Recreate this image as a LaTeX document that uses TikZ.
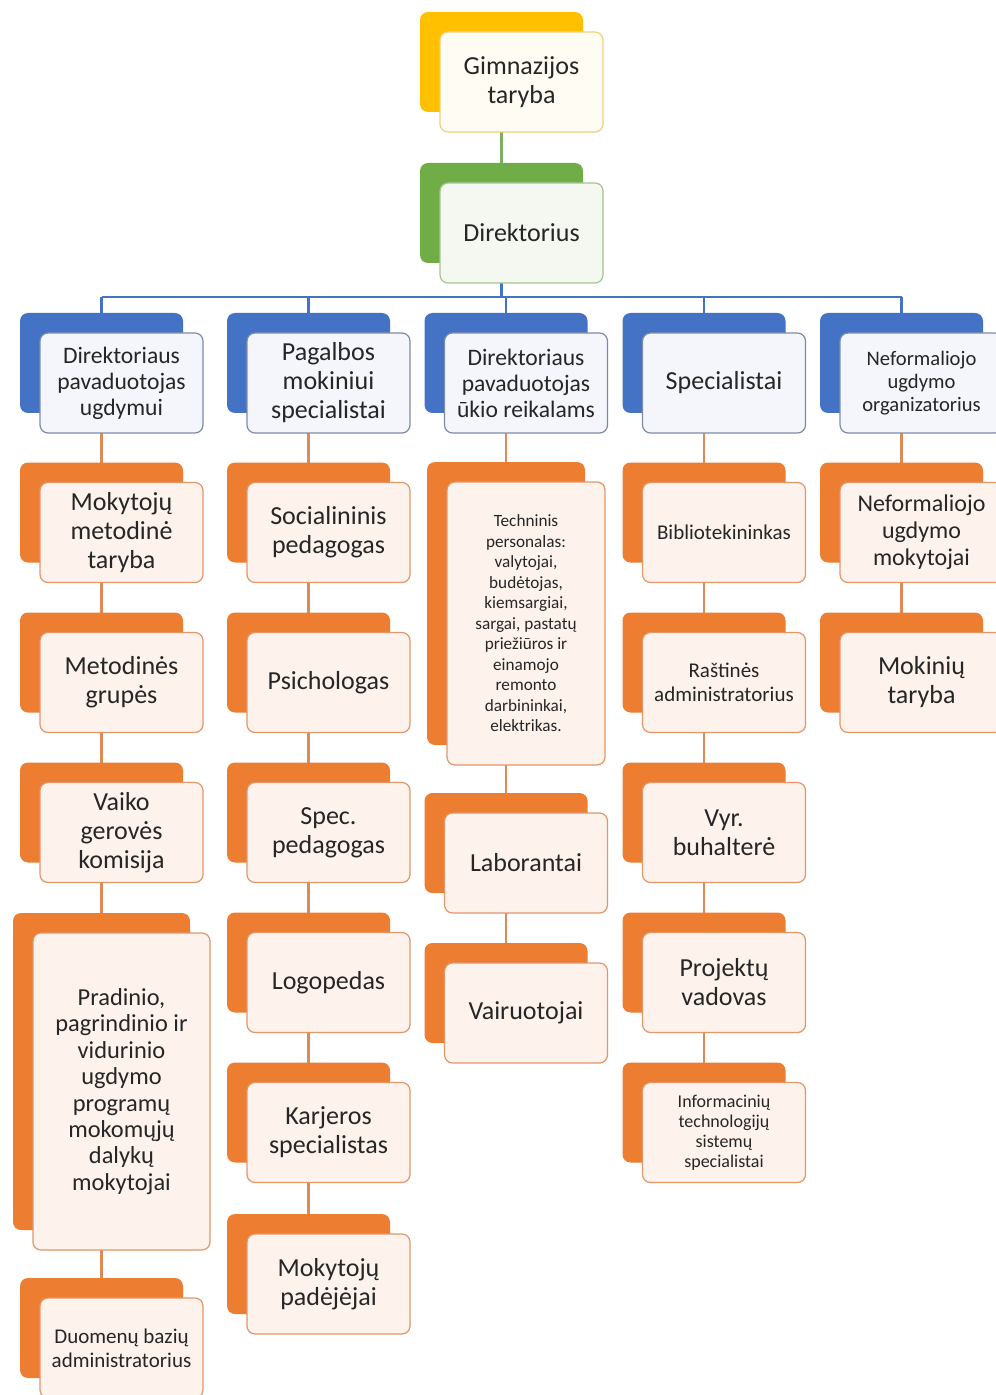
\documentclass[tikz,border=0pt]{standalone}
\usepackage{fontspec}
\setmainfont{Carlito}
\usetikzlibrary{shadows}
\usetikzlibrary{backgrounds}

\definecolor{gimback}{HTML}{FFC000}
\definecolor{gimfront}{HTML}{FFFDF3}
\definecolor{gimedge}{HTML}{F2D07A}
\definecolor{dirback}{HTML}{70AD47}
\definecolor{dirfront}{HTML}{F4F8F1}
\definecolor{diredge}{HTML}{A5C493}
\definecolor{pavback}{HTML}{4472C4}
\definecolor{pavfront}{HTML}{F4F6FB}
\definecolor{pavedge}{HTML}{7D8BAA}
\definecolor{darbback}{HTML}{ED7D31}
\definecolor{darbfront}{HTML}{FDF2EC}
\definecolor{darbedge}{HTML}{E0976A}
\definecolor{darbline}{HTML}{DE8A55}
\definecolor{dirline}{HTML}{7FAE5E}
\definecolor{tekstas}{HTML}{262626}

\tikzset{
  orgbox/.style={rectangle, rounded corners=4pt, minimum width=81.5pt, minimum height=50pt,
    inner sep=1pt, align=center, text=tekstas, line width=0.6pt},
  backcopy/.style={copy shadow={shadow xshift=-10pt, shadow yshift=10pt, fill=#1, draw=none}},
  gimbox/.style={orgbox, fill=gimfront, draw=gimedge, backcopy=gimback},
  dirbox/.style={orgbox, fill=dirfront, draw=diredge, backcopy=dirback},
  pavbox/.style={orgbox, fill=pavfront, draw=pavedge, backcopy=pavback},
  darbbox/.style={orgbox, fill=darbfront, draw=darbedge, backcopy=darbback},
  didelis/.style={font=\fontsize{13}{14.5}\selectfont},
  vidutinis/.style={font=\fontsize{11.8}{13}\selectfont},
  mazas/.style={font=\fontsize{10.5}{12}\selectfont},
  smulkus/.style={font=\fontsize{8.6}{10.25}\selectfont},
  darbjungtis/.style={draw=darbline, line width=1.4pt},
  pavjungtis/.style={draw=pavback, line width=1.4pt},
  dirjungtis/.style={draw=dirline, line width=1.4pt}
}

\begin{document}
\begin{tikzpicture}[x=0.5pt, y=-0.5pt]
        \useasboundingbox (0,0) rectangle (995,1395);

        \node[gimbox, didelis] (gim) at (521.5,82) {Gimnazijos\\taryba};
        \node[dirbox, didelis] (dir) at (521.5,233) {Direktorius};

        \node[pavbox, vidutinis] (dpu) at (121.5,383) {Direktoriaus\\pavaduotojas\\ugdymui};
        \node[pavbox, didelis] (pms) at (328.5,383) {Pagalbos\\mokiniui\\specialistai};
        \node[pavbox, vidutinis] (dpr) at (526,383) {Direktoriaus\\pavaduotojas\\ūkio reikalams};
        \node[pavbox, didelis] (spc) at (724,383) {Specialistai};
        \node[pavbox, font=\fontsize{10.3}{11.5}\selectfont] (nuo) at (921.5,383) {Neformaliojo\\ugdymo\\organizatorius};

        \node[darbbox, didelis] (mmt) at (121.5,532.5) {Mokytojų\\metodinė\\taryba};
        \node[darbbox, didelis] (mg) at (121.5,682.5) {Metodinės\\grupės};
        \node[darbbox, didelis] (vgk) at (121.5,832.5) {Vaiko\\gerovės\\komisija};
        \node[darbbox, font=\fontsize{12.2}{13.2}\selectfont, minimum width=88.5pt, minimum height=158.5pt] (pvu) at (121.5,1091.5)
          {Pradinio,\\pagrindinio ir\\vidurinio\\ugdymo\\programų\\mokomųjų\\dalykų\\mokytojai};
        \node[darbbox, mazas] (dba) at (121.5,1348) {Duomenų bazių\\administratorius};

        \node[darbbox, didelis] (sp) at (328.5,532.5) {Socialininis\\pedagogas};
        \node[darbbox, didelis] (psi) at (328.5,682.5) {Psichologas};
        \node[darbbox, didelis] (spp) at (328.5,832.5) {Spec.\\pedagogas};
        \node[darbbox, didelis] (log) at (328.5,982.5) {Logopedas};
        \node[darbbox, didelis] (ks) at (328.5,1132.5) {Karjeros\\specialistas};
        \node[darbbox, didelis] (mp) at (328.5,1284) {Mokytojų\\padėjėjai};

        \node[darbbox, smulkus, minimum width=79pt, minimum height=141.5pt] (tp) at (526,623.5)
          {Techninis\\personalas:\\valytojai,\\budėtojas,\\kiemsargiai,\\sargai, pastatų\\priežiūros ir\\einamojo\\remonto\\darbininkai,\\elektrikas.};
        \node[darbbox, didelis] (lab) at (526,863) {Laborantai};
        \node[darbbox, didelis] (vai) at (526,1013) {Vairuotojai};

        \node[darbbox, mazas] (bib) at (724,532.5) {Bibliotekininkas};
        \node[darbbox, mazas] (ra) at (724,682.5) {Raštinės\\administratorius};
        \node[darbbox, didelis] (vb) at (724,832.5) {Vyr.\\buhalterė};
        \node[darbbox, didelis] (pv) at (724,982.5) {Projektų\\vadovas};
        \node[darbbox, font=\fontsize{9}{10}\selectfont] (its) at (724,1132.5) {Informacinių\\technologijų\\sistemų\\specialistai};

        \node[darbbox, font=\fontsize{12}{13.5}\selectfont] (num) at (921.5,532.5) {Neformaliojo\\ugdymo\\mokytojai};
        \node[darbbox, didelis] (mt) at (921.5,682.5) {Mokinių\\taryba};

        \coordinate (bus) at (0,297);

        \begin{scope}[on background layer]
          \fill[white] (0,0) rectangle (995,1395);
          \draw[dirjungtis] ([xshift=-10pt]gim.center) -- ([xshift=-10pt]dir.center);
          \draw[pavjungtis] ([xshift=-10pt]dir.center) -- ([xshift=-10pt]dir.center |- bus);
          \draw[pavjungtis] ([xshift=-10pt]dpu.center |- bus) -- ([xshift=-10pt]nuo.center |- bus);
          \foreach \n in {dpu,pms,dpr,spc,nuo}
            \draw[pavjungtis] ([xshift=-10pt]\n.center |- bus) -- ([xshift=-10pt]\n.center);
          \foreach \a/\b in {dpu/mmt,mmt/mg,mg/vgk,vgk/pvu,pvu/dba,
                             pms/sp,sp/psi,psi/spp,spp/log,log/ks,ks/mp,
                             dpr/tp,tp/lab,lab/vai,
                             spc/bib,bib/ra,ra/vb,vb/pv,pv/its,
                             nuo/num,num/mt}
            \draw[darbjungtis] ([xshift=-10pt]\a.center) -- ([xshift=-10pt]\b.center);
        \end{scope}
      \end{tikzpicture}
\end{document}
